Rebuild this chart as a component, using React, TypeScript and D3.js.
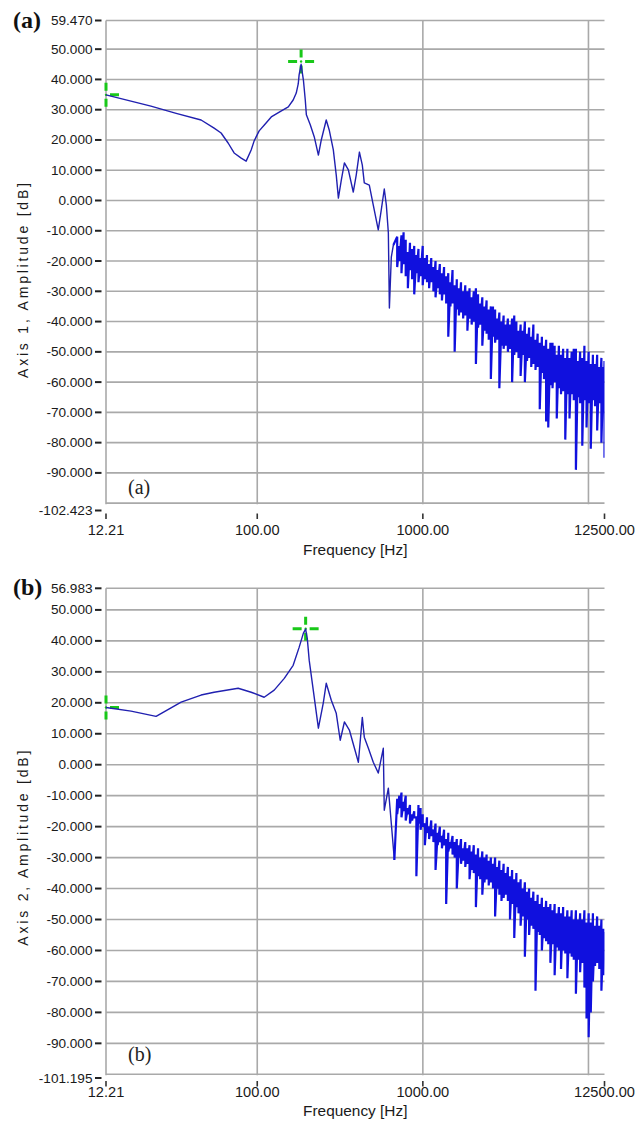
import React from 'react';
import * as d3 from 'd3';

// frequency axis [Hz], same for both panels
const freqMin = 12.21;
const freqMax = 12500;
const freqGrid = [12.21, 100, 1000, 10000];
const freqTicks = [12.21, 100, 1000, 12500];
const ampGrid = [50, 40, 30, 20, 10, 0, -10, -20, -30, -40, -50, -60, -70, -80, -90, -100];
const ampLabels = [50, 40, 30, 20, 10, 0, -10, -20, -30, -40, -50, -60, -70, -80, -90];

// panel (a) - low part of the spectrum, read point by point
const ampTopA = 59.47;
const ampBottomA = -102.423;
const curveFreqA = [12.21, 22.8, 32.4, 45.8, 54.9, 60.5, 66.7, 72.5, 80.0, 85.7,
  91.9, 95.8, 102.7, 111.7, 121.5, 135.8, 154, 164.8, 172, 176.8,
  179, 184, 190, 195, 198, 209, 221, 234, 243.6, 261,
  272, 288, 300, 309, 322, 336, 355, 380, 396, 414,
  431, 443, 475, 502, 538, 561, 585, 602, 619, 628,
  645, 664];
const curveDbA = [34.9, 31.2, 28.8, 26.6, 23.9, 22.3, 19, 15.7, 14.0, 13.0,
  16.7, 19.7, 23.0, 25.3, 27.6, 29.2, 30.9, 33.2, 35.5, 38.5,
  41.5, 45.0, 39.8, 33.2, 28.3, 25, 21, 15, 20, 26.6,
  23.3, 16.7, 8.4, 0.8, 6.8, 12.4, 10.1, 2.8, 8.4, 16.0,
  11.7, 5.8, 5.1, -1.5, -9.7, -3.1, 3.8, -1.5, -10.7, -35.5,
  -18.7, -14.7];
const markerFreqA = [12.21, 184];
const markerDbA = [34.9, 45.9];

// panel (b)
const ampTopB = 56.983;
const ampBottomB = -101.195;
const curveFreqB = [12.21, 17.3, 24.5, 28.2, 34.7, 45.8, 54.9, 76.7, 91.9, 110.1,
  126.6, 145.6, 164.8, 179, 190, 196, 200.5, 206, 217.9, 234,
  250.4, 261, 280, 300, 317, 336, 360, 408, 431, 443,
  469, 502, 538, 577, 585, 619, 673];
const curveDbB = [18.5, 17.3, 15.6, 17.5, 20.2, 22.5, 23.4, 24.7, 23.4, 21.8,
  24.1, 27.9, 32.1, 37.9, 42.5, 43.8, 40.8, 33.7, 24.1, 11.8,
  19.9, 26.3, 20.8, 16.6, 7.9, 13.8, 11.2, 0.8, 15.3, 8.9,
  5.3, 0.8, -2.7, 5.3, -14.7, -7.6, -30.8];
const markerFreqB = [12.21, 196];
const markerDbB = [18.5, 43.9];

// dense high-frequency part: max / min per display bin
const bandFreqs = [700, 721, 743, 765, 788, 812, 836, 861, 887, 914,
  941, 969, 998, 1028, 1059, 1091, 1124, 1158, 1193, 1229,
  1266, 1304, 1343, 1383, 1424, 1467, 1511, 1556, 1603, 1651,
  1700, 1751, 1804, 1858, 1914, 1971, 2030, 2091, 2154, 2219,
  2286, 2355, 2426, 2499, 2574, 2651, 2731, 2813, 2897, 2984,
  3074, 3166, 3261, 3359, 3460, 3564, 3671, 3781, 3894, 4011,
  4131, 4255, 4383, 4514, 4650, 4789, 4933, 5081, 5233, 5390,
  5552, 5718, 5890, 6067, 6249, 6436, 6629, 6828, 7033, 7244,
  7461, 7685, 7916, 8153, 8398, 8650, 8909, 9177, 9452, 9736,
  10028, 10329, 10639, 10958, 11287, 11625, 11974, 12333, 12500];

const bandHiA = [-12, -15, -11.5, -10.5, -13, -17, -14, -16, -15, -18,
  -16, -19, -15, -19, -18, -21, -19, -22, -20, -23,
  -21, -24, -22, -25, -24, -27, -23, -28, -26, -29,
  -27, -30, -28, -30, -29, -32, -30, -29, -31, -34,
  -32, -35, -33, -36, -35, -35, -36, -39, -37, -40,
  -38, -41, -39, -41, -39, -38, -40, -43, -41, -43,
  -40, -44, -42, -45, -41, -46, -44, -47, -45, -48,
  -46, -49, -47, -47, -48, -51, -48, -51, -49, -52,
  -49, -52, -50, -49, -49, -53, -50, -52, -48, -53,
  -50, -54, -51, -54, -51, -55, -52, -55, -53];
const bandLoA = [-22, -20, -24, -21, -25, -29, -23, -26, -31, -24,
  -27, -25, -28, -26, -27, -29, -27, -30, -32, -29,
  -31, -33, -31, -34, -45, -35, -34, -50, -36, -38,
  -37, -39, -38, -43, -39, -41, -40, -54, -42, -41,
  -48, -43, -44, -46, -59, -45, -47, -46, -62, -48,
  -49, -48, -50, -49, -60, -51, -50, -52, -58, -51,
  -60, -53, -52, -55, -54, -56, -55, -69, -57, -59,
  -73, -75, -61, -62, -60, -72, -62, -64, -63, -79,
  -64, -72, -64, -66, -89, -65, -67, -81, -66, -75,
  -67, -82, -66, -68, -76, -67, -80, -69, -85];

const bandHiB = [-11, -10, -9, -12, -10, -14, -13, -16, -15, -17,
  -13, -14, -16, -19, -17, -20, -18, -21, -19, -22,
  -20, -23, -21, -24, -22, -25, -23, -25, -24, -26,
  -24, -27, -25, -27, -26, -28, -26, -29, -27, -30,
  -28, -30, -29, -31, -30, -32, -30, -33, -31, -34,
  -32, -35, -33, -36, -34, -37, -35, -38, -37, -40,
  -38, -41, -40, -43, -41, -44, -42, -45, -43, -46,
  -44, -46, -45, -47, -45, -48, -46, -48, -46, -49,
  -47, -49, -47, -50, -47, -50, -48, -50, -47, -51,
  -48, -51, -48, -52, -49, -52, -50, -53, -54];
const bandLoB = [-16, -14, -17, -15, -18, -16, -19, -18, -17, -36,
  -19, -21, -20, -26, -22, -24, -23, -25, -34, -26,
  -25, -27, -26, -45, -28, -27, -29, -30, -40, -30,
  -32, -31, -33, -32, -37, -34, -35, -46, -36, -37,
  -42, -38, -37, -39, -38, -40, -49, -40, -42, -44,
  -43, -42, -44, -50, -45, -56, -46, -48, -52, -49,
  -62, -50, -55, -52, -53, -73, -54, -55, -60, -56,
  -57, -58, -64, -58, -68, -59, -60, -66, -60, -61,
  -69, -61, -62, -63, -74, -63, -67, -64, -72, -82,
  -88, -80, -70, -65, -64, -66, -73, -68, -61];

const sans = '"Liberation Sans", Arial, sans-serif';
const serif = '"Liberation Serif", "Times New Roman", serif';
const gridColor = '#a9a9a9';
const textColor = '#1a1a1a';

type PanelProps = {
  id: string;
  top: number;
  bottom: number;
  ampTop: number;
  ampBottom: number;
  curveFreq: number[];
  curveDb: number[];
  bandHi: number[];
  bandLo: number[];
  markerFreq: number[];
  markerDb: number[];
  tag: string;
  axisTitle: string;
  labelDy: number;
  titleDy: number;
};

const Marker = ({ cx, cy }: { cx: number; cy: number }) => (
  <g stroke="#19c819" strokeWidth={3} fill="none">
    <line x1={cx - 13} y1={cy} x2={cx - 4} y2={cy} />
    <line x1={cx + 4} y1={cy} x2={cx + 13} y2={cy} />
    <line x1={cx} y1={cy - 12} x2={cx} y2={cy - 4} />
    <line x1={cx} y1={cy + 4} x2={cx} y2={cy + 12} />
    <circle cx={cx} cy={cy} r={1.2} fill="#19c819" strokeWidth={0} />
  </g>
);

const Panel = (p: PanelProps) => {
  const left = 106;
  const right = 604.5;
  const x = d3.scaleLog().domain([freqMin, freqMax]).range([left, right]);
  const y = d3.scaleLinear().domain([p.ampTop, p.ampBottom]).range([p.top, p.bottom]);

  const curvePts: [number, number][] = p.curveFreq.map((f, i) => [f, p.curveDb[i]]);
  const bandPts: [number, number][] = [curvePts[curvePts.length - 1]];
  bandFreqs.forEach((f, i) => {
    bandPts.push([f, p.bandHi[i]]);
    bandPts.push([f, p.bandLo[i]]);
  });
  const line = d3.line<[number, number]>().x(d => x(d[0])).y(d => y(d[1]));

  const gridBottom = y(-100);
  const labelX = 92.5;
  const cy = (p.top + p.bottom) / 2 + 15;

  return (
    <g>
      <defs>
        <clipPath id={`clip-${p.id}`}>
          <rect x={left - 2} y={p.top - 14} width={right - left + 2} height={p.bottom - p.top + 14} />
        </clipPath>
      </defs>

      {/* grid */}
      <g stroke={gridColor} strokeWidth={1.6}>
        <line x1={left} x2={right} y1={y(p.ampTop)} y2={y(p.ampTop)} />
        {ampGrid.map(v => (
          <line key={v} x1={left} x2={right} y1={y(v)} y2={y(v)} />
        ))}
        {freqGrid.map(f => (
          <line key={f} x1={x(f)} x2={x(f)} y1={p.top} y2={gridBottom + 1} />
        ))}
      </g>

      {/* y ticks and labels */}
      <g fontFamily={sans} fontSize={13.6} fill={textColor} textAnchor="end">
        {[p.ampTop, ...ampLabels, p.ampBottom].map(v => (
          <g key={v}>
            <line x1={95} x2={101.5} y1={y(v)} y2={y(v)} stroke="#222" strokeWidth={2} />
            <text x={labelX} y={y(v)} dominantBaseline="central">{v.toFixed(3)}</text>
          </g>
        ))}
      </g>

      {/* x ticks and labels */}
      <g fontFamily={sans} fontSize={14.6} fill={textColor} textAnchor="middle">
        {freqTicks.map(f => (
          <g key={f}>
            <line x1={x(f)} x2={x(f)} y1={p.bottom + 3} y2={p.bottom + 8.5} stroke="#333" strokeWidth={1.6} />
            <text x={x(f)} y={p.bottom + p.labelDy} dominantBaseline="central">{f.toFixed(2)}</text>
          </g>
        ))}
        <text x={(left + right) / 2} y={p.bottom + p.titleDy} dominantBaseline="central" fontSize={15.4}>
          Frequency [Hz]
        </text>
      </g>

      <text
        transform={`translate(23,${cy}) rotate(-90)`}
        textAnchor="middle"
        dominantBaseline="central"
        fontFamily={sans}
        fontSize={14}
        fill={textColor}
        textLength={195}
        lengthAdjust="spacing"
      >
        {p.axisTitle}
      </text>

      {/* cursor markers and spectrum */}
      <g clipPath={`url(#clip-${p.id})`}>
        {p.markerFreq.map((f, i) => (
          <Marker key={f} cx={x(f)} cy={y(p.markerDb[i])} />
        ))}
        <path d={line(curvePts) || ''} fill="none" stroke="#2020b0" strokeWidth={1.4} strokeLinejoin="round" />
        <path d={line(bandPts) || ''} fill="none" stroke="#1010de" strokeWidth={2.2} strokeLinejoin="miter" strokeMiterlimit={2} />
      </g>

      {/* panel tags */}
      <text x={13} y={p.top + 7} fontFamily={serif} fontWeight="bold" fontSize={24} fill="#111">
        ({p.tag})
      </text>
      <text x={128} y={p.bottom - 17} fontFamily={serif} fontSize={20} fill="#222">
        ({p.tag})
      </text>
    </g>
  );
};

export default function App() {
  return (
    <div style={{ position: 'absolute', left: 0, top: 0 }}>
      <svg width={644} height={1125} style={{ display: 'block', background: '#fff' }}>
        <Panel
          id="a"
          top={20.5}
          bottom={510.5}
          ampTop={ampTopA}
          ampBottom={ampBottomA}
          curveFreq={curveFreqA}
          curveDb={curveDbA}
          bandHi={bandHiA}
          bandLo={bandLoA}
          markerFreq={markerFreqA}
          markerDb={markerDbA}
          tag="a"
          axisTitle="Axis 1, Amplitude [dB]"
          labelDy={19}
          titleDy={39}
        />
        <Panel
          id="b"
          top={588.3}
          bottom={1078}
          ampTop={ampTopB}
          ampBottom={ampBottomB}
          curveFreq={curveFreqB}
          curveDb={curveDbB}
          bandHi={bandHiB}
          bandLo={bandLoB}
          markerFreq={markerFreqB}
          markerDb={markerDbB}
          tag="b"
          axisTitle="Axis 2, Amplitude [dB]"
          labelDy={14}
          titleDy={32}
        />
      </svg>
    </div>
  );
}
